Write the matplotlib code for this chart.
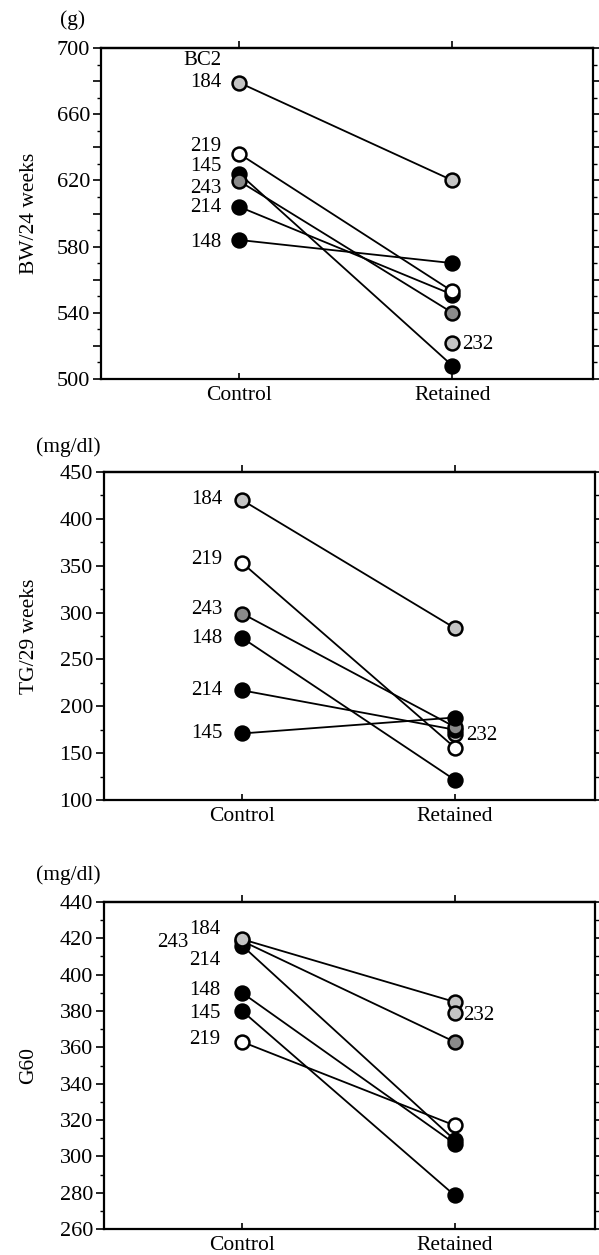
import matplotlib
matplotlib.use("Agg")
import matplotlib.pyplot as plt
from matplotlib.ticker import MultipleLocator, FuncFormatter

# -------------------------------------------------------------------
# 1. DATA
# -------------------------------------------------------------------
groups = ["Control", "Retained"]

face = {"184": "#c4c4c4", "232": "#c4c4c4", "243": "#8a8a8a",
        "219": "white", "214": "black", "148": "black", "145": "black"}

# body weight at 24 weeks (g)
bw_control = {"184": 679, "219": 636, "145": 624, "243": 619.5, "214": 604, "148": 584}
bw_retained = {"184": 620, "219": 553, "145": 508, "243": 540, "214": 551, "148": 570, "232": 522}

# triglyceride at 29 weeks (mg/dl)
tg_control = {"184": 420, "219": 353, "145": 171, "243": 299, "214": 217, "148": 273}
tg_retained = {"184": 283.5, "219": 156, "145": 188, "243": 178, "214": 175, "148": 121.5, "232": 170}

# G60 (mg/dl)
g60_control = {"184": 419.5, "219": 363, "145": 380, "243": 418.5, "214": 416, "148": 390}
g60_retained = {"184": 385, "219": 317, "145": 278.5, "243": 363, "214": 309, "148": 307, "232": 379}

# -------------------------------------------------------------------
# 2. STYLE
# -------------------------------------------------------------------
plt.rcParams["font.family"] = ["Liberation Serif", "DejaVu Serif"]
FS_TICK = 16
FS_ID = 15
FS_LAB = 15.5
W, H = 599, 1255

fig = plt.figure(figsize=(W / 100, H / 100), dpi=100)


def box(l, r, t, b):
    # pixel box -> figure fraction
    return [l / W, 1 - b / H, (r - l) / W, (b - t) / H]


def panel(px, control, retained, order, ylim, major, minor, label_step,
          ylabel, unit, unit_xy, lab_off, r_off):
    l, r, t, b = px
    ax = fig.add_axes(box(l, r, t, b))
    for k in order:
        if k in control:
            ax.plot([0, 1], [control[k], retained[k]], color="black", lw=1.3,
                    marker="o", ms=10, mfc=face[k], mec="black", mew=1.8,
                    zorder=3, clip_on=False)
        else:
            ax.plot([1], [retained[k]], ls="none", marker="o", ms=10,
                    mfc=face[k], mec="black", mew=1.8, zorder=3)

    # id labels
    for k, (dx, dy) in lab_off.items():
        ax.annotate(k, (0, control[k]), xytext=(dx, dy), textcoords="offset pixels",
                    ha="right", va="center", fontsize=FS_ID)
    ax.annotate("232", (1, retained["232"]), xytext=r_off, textcoords="offset pixels",
                ha="left", va="center", fontsize=FS_ID)

    ax.set_xlim(-0.65, 1.66)
    ax.set_ylim(*ylim)
    ax.set_xticks([0, 1])
    ax.set_xticklabels(groups, fontsize=FS_LAB)
    ax.tick_params(axis="x", direction="in", length=4, width=1.2, pad=5)

    top = ax.secondary_xaxis("top")
    top.set_xticks([0, 1])
    top.set_xticklabels(["", ""])
    top.tick_params(direction="out", length=5, width=1.2)
    top.spines["top"].set_linewidth(1.6)

    y0 = ylim[0]
    ax.yaxis.set_major_locator(MultipleLocator(major))
    ax.yaxis.set_minor_locator(MultipleLocator(minor))
    ax.yaxis.set_major_formatter(FuncFormatter(
        lambda v, p: f"{v:.0f}" if abs((v - y0) / label_step - round((v - y0) / label_step)) < 1e-6 else ""))
    ax.tick_params(axis="y", which="major", direction="out", length=6, width=1.2,
                   right=True, labelsize=FS_TICK, pad=2)
    ax.tick_params(axis="y", which="minor", direction="out", length=3, width=1.0, right=True)
    for s in ax.spines.values():
        s.set_linewidth(1.6)

    fig.text(29 / W, 1 - (t + b) / 2 / H, ylabel, rotation=90, fontsize=FS_LAB,
             ha="center", va="center")
    fig.text(unit_xy[0] / W, 1 - unit_xy[1] / H, unit, fontsize=FS_LAB, ha="center", va="center")
    return ax


# -------------------------------------------------------------------
# 3. PANELS
# -------------------------------------------------------------------
ax1 = panel((101, 593, 48, 379), bw_control, bw_retained,
            ["232", "214", "145", "243", "148", "219", "184"],
            (500, 700), 20, 10, 40, "BW/24 weeks", "(g)", (73, 20),
            {"184": (-18, 0), "219": (-18, 7), "145": (-18, 7), "243": (-18, -7),
             "214": (-18, -1), "148": (-18, -3)}, (10, -2))
ax1.annotate("BC2", (0, bw_control["184"]), xytext=(-18, 22), textcoords="offset pixels",
             ha="right", va="center", fontsize=FS_ID)

ax2 = panel((104, 595, 472, 800), tg_control, tg_retained,
            ["232", "214", "243", "145", "148", "219", "184"],
            (100, 450), 50, 25, 50, "TG/29 weeks", "(mg/dl)", (68, 447),
            {"184": (-20, 1), "219": (-20, 3), "243": (-20, 4), "148": (-20, -1),
             "214": (-20, 0), "145": (-20, 0)}, (11, -1))

ax3 = panel((104, 595, 902, 1229), g60_control, g60_retained,
            ["214", "148", "145", "219", "243", "184", "232"],
            (260, 440), 20, 10, 20, "G60", "(mg/dl)", (68, 875),
            {"184": (-22, 10), "243": (-54, -1), "214": (-22, -15), "148": (-22, 2),
             "145": (-22, -2), "219": (-22, 2)}, (8, -3))

fig.savefig("out.png", dpi=100)
